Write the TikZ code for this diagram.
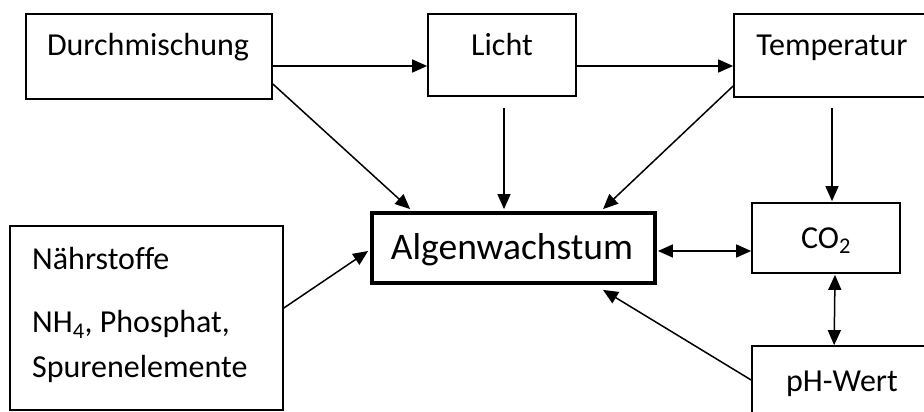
\documentclass[tikz,border=0pt]{standalone}
\usepackage{fontspec}
\setmainfont{Carlito}[Ligatures=NoCommon]
\usetikzlibrary{arrows.meta,calc}

\tikzset{
  box/.style={draw=black, line width=1.7pt, fill=white, inner sep=0pt},
  mainbox/.style={draw=black, line width=3.8pt, fill=white, inner sep=0pt},
  label/.style={anchor=base, inner sep=0pt, font=\fontsize{32}{38}\selectfont},
  biglabel/.style={anchor=base, inner sep=0pt, font=\fontsize{37.5}{44}\selectfont},
  leftlabel/.style={anchor=base west, inner sep=0pt, font=\fontsize{32}{38}\selectfont},
  conn/.style={line width=1.5pt, -{Triangle[length=15pt,width=13pt]}},
  biconn/.style={line width=1.5pt, {Triangle[length=15pt,width=13pt]}-{Triangle[length=15pt,width=13pt]}}
}

\begin{document}
\begin{tikzpicture}[x=1pt,y=-1pt]
  \useasboundingbox (0,0) rectangle (924,412);
  \fill[white] (0,0) rectangle (924,412);

  % boxes (the ones at the right margin run past the page edge)
  \node[box, minimum width=246pt, minimum height=85pt] (dm) at (149,56.5) {};
  \node[box, minimum width=148pt, minimum height=82pt] (licht) at (502,55) {};
  \node[box, minimum width=210pt, minimum height=83pt] (temp) at (839,55.5) {};
  \node[box, minimum width=148pt, minimum height=70pt] (co2) at (826,238) {};
  \node[box, minimum width=200pt, minimum height=100pt] (ph) at (852,396) {};
  \node[box, minimum width=273pt, minimum height=184pt] (naehr) at (146.5,318) {};
  \node[mainbox, minimum width=283pt, minimum height=70pt] (alg) at (513.5,248) {};

  % texts
  \node[label] (tdm) at (148,56) {Durchmischung};
  \node[label] (tlicht) at (502,56) {Licht};
  \node[label] (ttemp) at (832,56) {Temperatur};
  \node[label] (tco2) at (826,248) {CO\textsubscript{2}};
  \node[label] (tph) at (842,391) {pH-Wert};
  \node[biglabel] (talg) at (512,259) {Algenwachstum};
  \node[leftlabel] (tn1) at (32,269) {Nährstoffe};
  \node[leftlabel] (tn2) at (32,332.5) {NH\textsubscript{4}, Phosphat,};
  \node[leftlabel] (tn3) at (32,377.5) {Spurenelemente};

  % free ends of the connectors
  \coordinate (lichtdown) at (504,108);
  \coordinate (tempdown) at (832,108);

  % connectors
  \draw[conn] ($(dm.east)+(0,9.5)$) -- ($(licht.west)+(0,11)$);
  \draw[conn] ($(licht.east)+(0,11)$) -- ($(temp.west)+(0,10.5)$);
  \draw[conn] ($(dm.east)+(0,27.5)$) -- ($(alg.north west)+(40,-2)$);
  \draw[conn] (lichtdown) -- ($(alg.north)+(-9.5,-2)$);
  \draw[conn] ($(temp.west)+(0,30.5)$) -- ($(alg.north)+(89.5,-2)$);
  \draw[conn] (tempdown) -- ($(co2.north)+(6,-1)$);
  \draw[biconn] ($(alg.east)+(1,3)$) -- ($(co2.west)+(0,13)$);
  \draw[biconn] ($(co2.south)+(9,1)$) -- ($(ph.north west)+(83,0)$);
  \draw[conn] ($(ph.west)+(0,-16)$) -- ($(alg.south)+(89.5,5)$);
  \draw[conn] ($(naehr.east)+(0,-10)$) -- ($(alg.west)+(-2,3)$);
\end{tikzpicture}
\end{document}
